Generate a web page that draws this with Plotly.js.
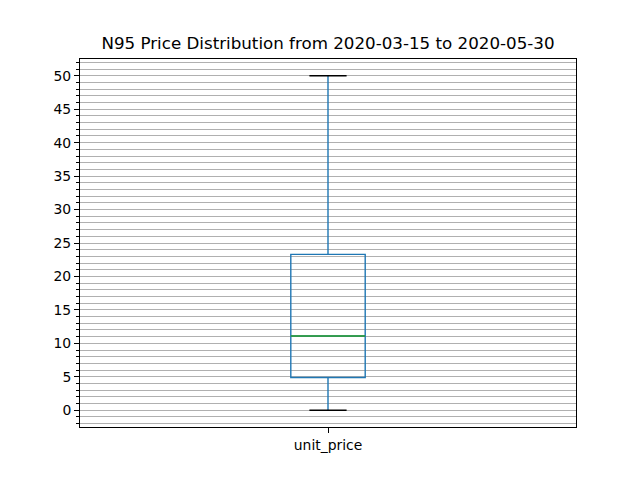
<!DOCTYPE html>
<html>
<head>
<meta charset="utf-8">
<script src="https://cdn.plot.ly/plotly-3.0.1.min.js"></script>
<style>
  html, body { margin: 0; padding: 0; background: #fff; }
  #graph { width: 640px; height: 480px; }
</style>
</head>
<body>
<div id="graph"></div>
<script>
// box stats
const categories = ["unit_price"];
const positions = [1];
const q1 = [4.9];
const median = [11.1];
const q3 = [23.3];
const lowerFence = [0];
const upperFence = [50];

const boxWidth = 0.15;
const capWidth = boxWidth / 2;

function render() {
  let traces = [];

  traces.push({
    type: "box",
    x: positions,
    q1: q1,
    median: median,
    q3: q3,
    lowerfence: lowerFence,
    upperfence: upperFence,
    width: boxWidth,
    whiskerwidth: 0,
    fillcolor: "rgba(0,0,0,0)",
    line: { color: "#1f77b4", width: 1.4 },
    hoverinfo: "skip",
    showlegend: false,
  });

  positions.forEach((p, i) => {
    // median line in green
    traces.push({
      type: "scatter",
      mode: "lines",
      x: [p - boxWidth / 2, p + boxWidth / 2],
      y: [median[i], median[i]],
      line: { color: "#2ca02c", width: 1.4 },
      hoverinfo: "skip",
      showlegend: false,
    });
    // black caps
    [lowerFence[i], upperFence[i]].forEach((v) => {
      traces.push({
        type: "scatter",
        mode: "lines",
        x: [p - capWidth / 2, p + capWidth / 2],
        y: [v, v],
        line: { color: "#000000", width: 1.4 },
        hoverinfo: "skip",
        showlegend: false,
      });
    });
  });

  let layout = {
    width: 640,
    height: 480,
    paper_bgcolor: "#ffffff",
    plot_bgcolor: "#ffffff",
    title: {
      text: "N95 Price Distribution from 2020-03-15 to 2020-05-30",
      x: 0.5125,
      xanchor: "center",
      y: 0.91,
      yanchor: "middle",
      font: { size: 16.7, color: "#000000" },
    },
    font: { family: "DejaVu Sans, sans-serif", size: 13.9, color: "#000000" },
    xaxis: {
      range: [0.5, 1.5],
      tickvals: positions,
      ticktext: categories,
      ticks: "outside",
      ticklen: 5,
      tickcolor: "#000",
      showgrid: false,
      zeroline: false,
      showline: true,
      linecolor: "#000",
      linewidth: 1,
      mirror: true,
      fixedrange: true,
    },
    yaxis: {
      range: [-2.5, 52.5],
      dtick: 5,
      tick0: 0,
      ticks: "outside",
      ticklen: 5,
      tickcolor: "#000",
      showgrid: true,
      gridcolor: "#b0b0b0",
      gridwidth: 1,
      zeroline: false,
      showline: true,
      linecolor: "#000",
      linewidth: 1,
      mirror: true,
      minor: {
        dtick: 1,
        ticks: "outside",
        ticklen: 3,
        tickcolor: "#000",
        showgrid: true,
        gridcolor: "#b0b0b0",
        gridwidth: 1,
      },
      fixedrange: true,
    },
    margin: { l: 80, r: 64, t: 59, b: 53, pad: 0 },
  };

  Plotly.newPlot("graph", traces, layout, { displayModeBar: false, staticPlot: true });
}

render();
</script>
</body>
</html>
